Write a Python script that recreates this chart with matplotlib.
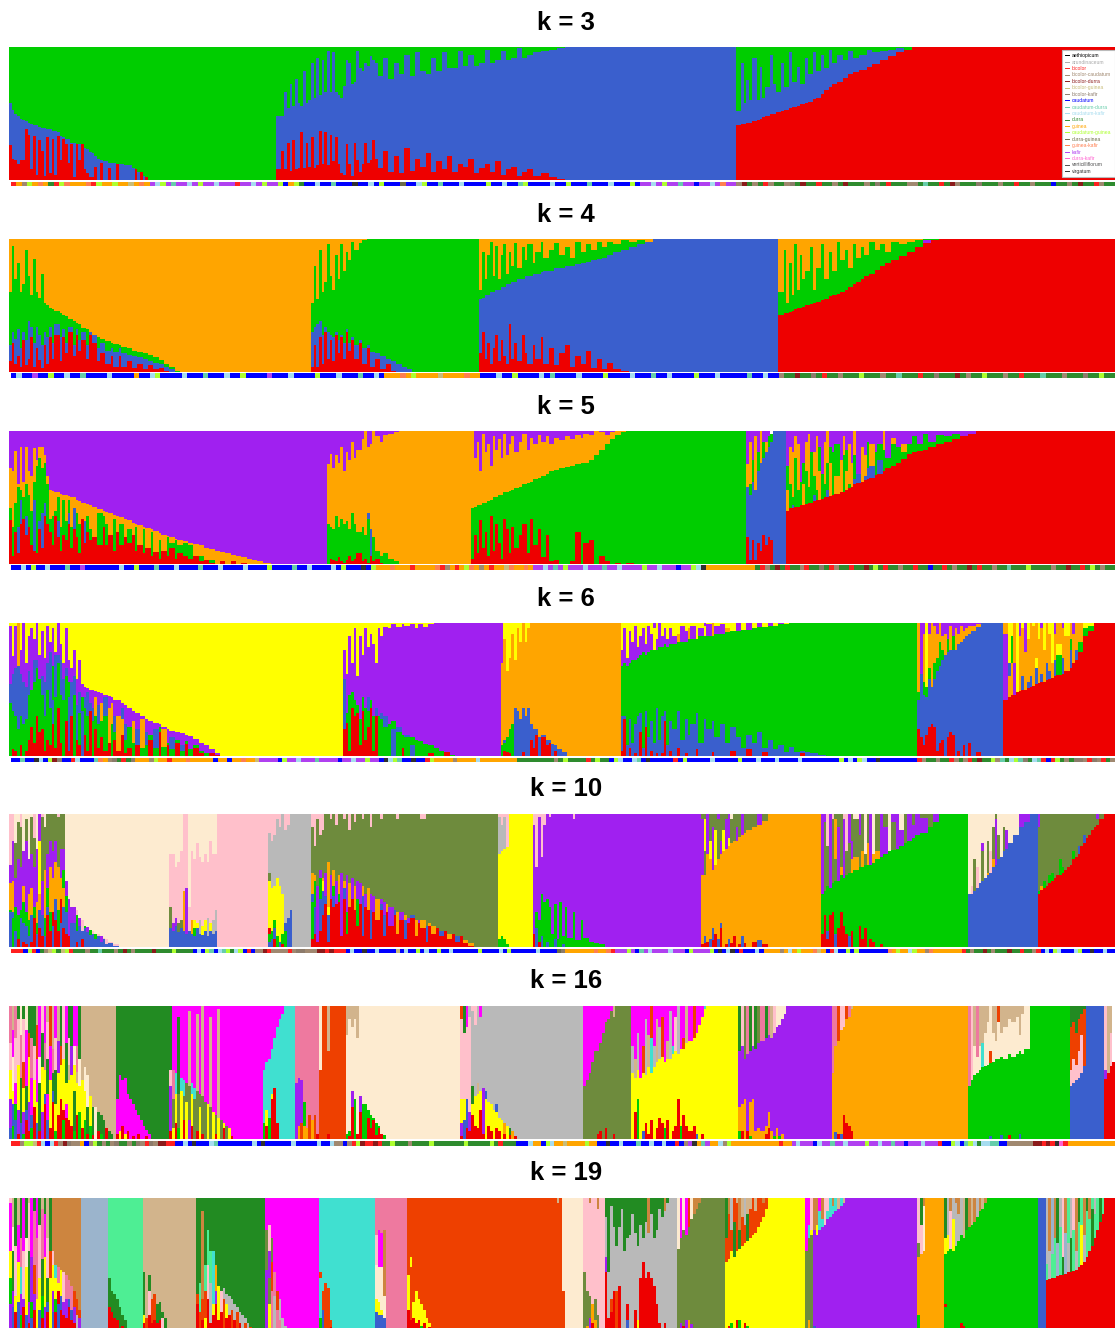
#!/usr/bin/python3

import matplotlib
matplotlib.use("Agg")
import matplotlib.pyplot as plt
import numpy as np
from matplotlib.colors import ListedColormap
from matplotlib.lines import Line2D

# ancestry colours, one letter per cluster
CLUSTER = {
    "r": "#EE0000", "b": "#3A5FCD", "g": "#00CD00", "o": "#FFA500", "p": "#A020F0",
    "y": "#FFFF00", "l": "#6E8B3D", "w": "#FDEBD0", "k": "#FFC0CB", "a": "#B9B9B9",
    "t": "#D2B48C", "f": "#228B22", "m": "#FF00FF", "u": "#40E0D0", "e": "#EE799F",
    "n": "#EE4000", "h": "#CD853F", "s": "#9BB4CC", "d": "#4EEE94",
}

# race names, their legend colours and strip letters
RACES = ["aethiopicum", "arundinaceum", "bicolor", "bicolor-caudatum", "bicolor-durra",
         "bicolor-guinea", "bicolor-kafir", "caudatum", "caudatum-durra", "caudatum-kafir",
         "durra", "guinea", "caudatum-guinea", "durra-guinea", "guinea-kafir", "kafir",
         "durra-kafir", "verticilliflorum", "virgatum"]
RACE_COL = ["#000000", "#A9A9A9", "#FF2020", "#A08870", "#8B1A1A", "#C8BC78", "#8C7B6B",
            "#0000FF", "#66CDAA", "#A6DCEF", "#2E8B2E", "#FFA500", "#ADFF2F", "#6B6B47",
            "#FF7F50", "#B040F0", "#FF60D0", "#505050", "#303030"]
RACE_KEY = "HURTXKMBACDOGEFPVIZ"

TITLES = ["k = 3", "k = 4", "k = 5", "k = 6", "k = 10", "k = 16", "k = 19"]
TOTAL = 414

# each run: individuals (or =last individual), then cluster letter + cumulative top in %
K3 = """
1 r26 b58 g;1 r16 b53 g;1 r15 b50 g;1 r12 b48 g;1 r15 b46 g;1 r15 b45 g;1 r38 b44 g;1 r34 b43 g;1 r8 b42 g;
1 r33 b41 g;1 r4 b41 g;1 r30 b40 g;1 r22 b39 g;1 r3 b39 g;1 r32 b38 g;1 r5 b38 g;1 r31 b37 g;1 r4 b37 g;
1 r33 b36 g;1 r15 b33 g;1 r31 b32 g;1 r27 b31 g;1 r13 b31 g;1 r27 b28 g;1 r2 b28 g;1 r27 b27 g;1 r15 b27 g;
1 r27 b27 g;1 r8 b24 g;1 r5 b23 g;1 r2 b21 g;1 r2 b20 g;1 r10 b18 g;1 b16 g;1 r13 b15 g;1 b14 g;1 b14 g;
1 r9 b13 g;2 b13 g;1 r12 b12 g;2 b12 g;3 b11 g;1 b9 g;1 r8 b8 g;1 b6 g;1 r6 b5 g;1 b3 g;1 r2 b2 g;=100 g;
2 r8 b48 g;1 r22 b48 g;1 r8 b66 g;1 r28 b54 g;1 r7 b72 g;1 r30 b56 g;1 r8 b76 g;1 r9 b58 g;1 r36 b56 g;
1 r9 b82 g;1 r28 b58 g;1 r10 b60 g;1 r32 b88 g;1 r9 b62 g;1 r11 b92 g;1 r37 b64 g;1 r12 b90 g;1 r36 b66 g;
1 r11 b97 g;1 r34 b66 g;1 r14 b96 g;1 r32 b66 g;1 r12 b64 g;1 r5 b62 g;1 r4 b71 g;1 r27 b90 g;1 r12 b88 g;
1 r3 b72 g;1 r28 b74 g;1 r15 b97 g;1 r6 b84 g;1 r12 b82 g;1 r28 b88 g;1 r13 b86 g;1 r15 b93 g;1 r30 b90 g;
1 r16 b88 g;2 r9 b78 g;2 r22 b92 g;2 r6 b76 g;2 r18 b88 g;2 r5 b80 g;2 r24 b94 g;2 r7 b78 g;2 r16 b96 g;
2 r10 b82 g;2 r20 b80 g;2 r6 b92 g;2 r14 b82 g;2 r8 b96 g;2 r18 b84 g;2 r6 b84 g;2 r12 b97 g;2 r10 b86 g;
2 r16 b94 g;2 r5 b86 g;2 r9 b88 g;2 r12 b98 g;2 r6 b88 g;2 r14 b90 g;2 r4 b97 g;2 r8 b90 g;2 r10 b92 g;
2 r3 b99 g;2 r6 b92 g;2 r8 b94 g;3 r3 b96 g;3 r5 b97 g;3 r2 b98 g;3 r1 b99 g;=272 b;
2 r41 b52 g;1 r42 b88 g;1 r42 b58 g;1 r43 b75 g;1 r43 b60 g;2 r44 b92 g;1 r45 b60 g;1 r46 b85 g;1 r47 b62 g;
2 r48 b70 g;1 r50 b94 g;1 r50 b72 g;2 r51 b66 g;1 r52 b88 g;2 r53 b70 g;1 r54 b96 g;2 r55 b74 g;1 r56 b85 g;
2 r57 b72 g;1 r58 b92 g;2 r59 b80 g;1 r61 b96 g;2 r62 b82 g;1 r65 b94 g;2 r68 b84 g;1 r70 b98 g;2 r72 b88 g;
2 r74 b94 g;2 r77 b90 g;2 r80 b97 g;2 r81 b92 g;3 r83 b94 g;2 r85 b98 g;3 r87 b96 g;3 r90 b97 g;3 r93 b98 g;
3 r96 b99 g;3 r98 g;=414 r
"""

K4 = """
1 r8 b20 g60 o;1 r22 b30 g95 o;1 r6 b25 g70 o;1 r12 b32 g82 o;1 r4 b18 g60 o;1 r24 b30 g66 o;1 r5 b24 g92 o;
1 r10 b38 g72 o;1 r26 b34 g58 o;1 r4 b22 g85 o;1 r18 b34 g60 o;1 r9 b28 g56 o;1 r3 b20 g74 o;1 r20 b30 g52 o;
1 r6 b26 g50 o;1 r26 b34 g48 o;1 r10 b22 g47 o;2 r28 b36 g46 o;1 r8 b26 g44 o;1 r26 b32 g43 o;1 r14 b22 g42 o;
2 r30 b34 g40 o;1 r12 b20 g38 o;1 r28 b32 g37 o;1 r16 b24 g36 o;2 r24 b30 g33 o;1 r10 b20 g32 o;1 r28 b30 g30 o;
2 r22 b28 g28 o;1 r8 b18 g26 o;2 r14 b22 g25 o;2 r6 b16 g23 o;1 r12 b18 g22 o;2 r4 b15 g21 o;1 r12 b18 g20 o;
2 r4 b14 g19 o;2 r8 b13 g18 o;2 r3 b12 g16 o;2 r6 b11 g15 o;2 r2 b10 g14 o;2 r5 b8 g13 o;2 r2 b7 g11 o;
2 r3 b6 g9 o;2 r1 b4 g6 o;2 b2 g4 o;2 g1 o;=113 o;
1 r4 b30 g52 o;1 r20 b34 g80 o;1 r4 b36 g55 o;1 r26 b38 g92 o;1 r6 b28 g60 o;1 r30 b34 g68 o;1 r10 b30 g96 o;
1 r24 b28 g72 o;1 r8 b26 g62 o;1 r28 b30 g88 o;1 r14 b24 g70 o;1 r26 b28 g96 o;1 r10 b22 g76 o;1 r30 b32 g90 o;
1 r16 b22 g84 o;1 r24 b26 g98 o;2 r10 b20 g92 o;1 r22 b24 g97 o;2 r6 b18 g99 o;1 r18 b20 g;2 r4 b15 g;2 r10 b14 g;
2 r2 b12 g;2 r6 b10 g;2 r1 b8 g;2 b6 g;2 b4 g;2 b2 g;=176 g;
1 r14 b55 g62 o;1 r30 b56 g90 o;1 r10 b58 g70 o;1 r22 b58 g88 o;1 r6 b60 g98 o;1 r18 b60 g72 o;1 r28 b62 g95 o;
1 r8 b62 g70 o;1 r24 b64 g88 o;1 r12 b64 g96 o;1 r6 b66 g74 o;1 r36 b66 g90 o;1 r10 b68 g80 o;1 r22 b68 g97 o;
2 r8 b70 g78 o;1 r28 b70 g94 o;1 r14 b72 g84 o;2 r6 b72 g96 o;1 r20 b74 g82 o;2 r10 b74 g90 o;1 r26 b75 g98 o;
2 r6 b76 g86 o;2 r18 b76 g92 o;2 r5 b78 g97 o;2 r14 b78 g88 o;2 r20 b80 g94 o;2 r4 b80 g86 o;2 r12 b81 g98 o;
2 r6 b82 g90 o;2 r16 b83 g96 o;2 r3 b84 g92 o;2 r10 b85 g98 o;2 r2 b86 g94 o;2 r7 b88 g98 o;3 r2 b90 g96 o;
3 r1 b92 g99 o;3 b94 g98 o;3 b96 g99 o;3 b98 o;=288 b;
2 r43 g60 o;1 r44 g92 o;1 r44 g52 o;1 r45 g82 o;1 r46 g58 o;1 r47 g96 o;1 r48 g62 o;1 r48 g88 o;1 r49 g70 o;
2 r50 g76 o;1 r51 g94 o;1 r52 g62 o;2 r53 g78 o;1 r54 g96 o;2 r55 g70 o;1 r57 g90 o;2 r58 g76 o;1 r59 g98 o;
2 r60 g84 o;1 r62 g92 o;2 r64 g78 o;1 r66 g96 o;2 r68 g86 o;1 r70 g94 o;2 r72 g88 o;2 r74 g98 o;2 r77 g92 o;
2 r80 g96 o;2 r82 g90 o;3 r84 g98 o;3 r87 g96 o;3 r90 g98 o;3 r94 g99 o;3 r97 p99 g;3 r99 g;=414 r
"""

K5 = """
1 r33 g42 o72 p;1 r6 g28 o70 p;1 r24 g46 o85 p;1 r8 b28 g58 o60 p;1 r30 b48 g56 o88 p;1 r34 g50 o62 p;1 r22 b36 g60 o88 p;
1 r28 g52 o70 p;1 r14 g40 o66 p;1 r10 b48 g62 o87 p;1 r8 g74 o78 p;1 r26 b32 g80 o88 p;1 r12 b38 g72 o88 p;1 r36 b46 g76 o82 p;
1 r30 g60 o66 p;1 r24 g34 o56 p;1 r14 g36 o55 p;1 r36 g40 o54 p;1 r20 b32 g50 o54 p;1 r10 g28 o53 p;1 r22 g48 o52 p;1 r18 g32 o52 p;
1 r30 b38 g48 o51 p;1 r12 g28 o50 p;1 r26 b42 o50 p;1 r20 g38 o48 p;1 r8 g30 o47 p;1 r34 o46 p;1 r16 b32 o46 p;1 r24 g36 o45 p;
1 r18 g26 o44 p;2 r20 o43 p;2 r14 g38 o41 p;1 r28 g36 o40 p;1 r14 g30 o39 p;2 r22 o38 p;1 r10 g34 o37 p;1 r24 o36 p;2 r14 g30 o35 p;
1 r20 o34 p;2 r16 g26 o33 p;1 r22 o31 p;1 r10 g28 o30 p;2 r14 o29 p;1 r8 g26 o28 p;2 r12 o27 p;1 r6 g24 o26 p;2 r9 o25 p;1 r4 g18 o23 p;
2 r10 o22 p;1 r6 g20 o21 p;2 r12 g16 o20 p;1 r4 g18 o19 p;2 r8 g14 o18 p;2 r6 g16 o17 p;2 r4 g14 o16 p;2 r6 o15 p;2 r2 g6 o14 p;
2 r3 o12 p;2 r1 g3 o11 p;2 o10 p;2 r2 o9 p;2 o8 p;2 r2 o7 p;2 o6 p;2 r1 o5 p;2 o4 p;2 o3 p;2 o2 p;3 o1 p;=119 p;
1 g30 o75 p;1 r4 g28 o83 p;1 r3 g26 o72 p;1 r2 g36 o82 p;1 r5 g28 o76 p;1 r2 g34 o88 p;1 r1 g30 o70 p;
1 r3 g32 o84 p;1 r6 g26 o78 p;1 r2 g38 o92 p;1 r4 g30 o80 p;2 r8 g24 o86 p;1 r2 g28 o94 p;1 r4 g22 o100;
1 r1 g34 b38 o88 p;1 r6 b26 o90 p;1 r2 g20 o100;2 r4 g10 o96 p;1 r1 g6 o92 p;2 g8 o97 p;2 g4 o98 p;2 g2 o99 p;=173 o;
1 r4 g42 o100 p;1 r22 g43 o80 p;1 r8 g44 o92 p;1 r33 g44 o70 p;1 r12 g46 o98 p;1 r24 g46 o84 p;1 r6 g47 o90 p;
1 r36 g48 o74 p;1 r10 g50 o96 p;1 r30 g50 o86 p;1 r16 g52 o94 p;1 r4 g52 o80 p;1 r34 g54 o98 p;1 r26 g54 o82 p;
1 r8 g55 o90 p;1 r28 g56 o96 p;2 r12 g57 o84 p;1 r22 g58 o92 p;2 r30 g60 o98 p;1 r8 g61 o86 p;1 r34 g62 o95 p;
2 r14 g64 o90 p;1 r26 g65 o97 p;2 r5 g66 o92 p;1 r22 g68 o96 p;2 r2 g70 o90 p;2 r3 g71 o95 p;2 g72 o93 p;
2 g73 o96 p;2 r2 g74 o94 p;2 r24 g75 o97 p;1 g76 o95 p;2 r16 g76 o98 p;2 r18 g78 o97 p;2 g82 o100;2 r6 g86 o99 p;
2 r2 g90 o97 p;2 g94 o99 p;2 r1 g97 o;2 g99 o;3 r1 g;=276 g;
1 r20 b58 o75 p;1 r3 b52 g60 o92 p;1 r18 b62 g78 p;1 r3 b56 o96 p;1 r16 b70 g84 p;1 r10 b76 o100;1 r22 b80 g92 p;
1 r14 b84 o92 p;1 r20 b88 g96 p;1 r18 b92 g98;=291 b;
1 r40 o56 g74 p;1 r42 g60 o88 p;1 r42 b44 g50 o84 p;1 r43 g80 o96 p;1 r43 g56 o90 p;1 r44 g62 p;1 r44 o60 g76 p;
1 r45 g70 o92 p;1 r46 g58 o98 p;1 r46 g84 p;1 r47 b52 g66 o84 p;1 r48 g56 o96 p;1 r48 o70 g88 p;1 r49 g68 p;
1 r50 g60 o92 p;1 r50 b56 g76 o;1 r51 o76 g88 p;1 r52 g84 p;2 r53 o66 g90 p;1 r54 o78 p;1 r54 g82 o96 p;
1 r56 o70 g86 p;1 r57 g60 o90 p;1 r58 o76 p;1 r60 b64 g82 o;2 r61 b68 p;1 r62 o88 p;1 r63 b66 o82 p;1 r64 b72 g92 p;
2 r65 b74 o90 p;1 r67 g84 p;2 r68 b78 g90 p;1 r70 g86 o;2 r72 g80 p;2 r74 g90 o95 p;2 r76 g88 p;2 r79 g84 o90 p;
2 r83 g90 p;2 r84 g96 p;2 r85 g90 p;2 r86 g98 p;3 r88 g92 p;3 r90 g97 p;3 r92 g96 p;3 r94 g98 p;3 r96 p;3 r98 p;=414 r
"""

K6 = """
1 g40 b54 p98 y;1 r5 g34 b62 p75 y;1 r4 g30 b66 p98 y;1 g20 b68 o100;1 r8 g30 b62 p80 y;1 g24 b56 p100;1 r4 g28 b52 p70 y;
1 r12 g46 b64 p90 y;1 r22 g50 p96 y;1 r10 g56 b72 p88 y;1 r30 g66 b72 p100;1 r18 g58 p76 y;1 r20 g46 b60 p94 y;
1 r4 g30 b56 p74 y;1 r12 g50 b70 p98 y;1 r8 g36 b78 p86 y;1 r24 b42 g68 p96 y;1 r6 g44 b76 p78 y;1 r36 g70 b76 p100;
1 r10 g46 b72 p84 y;1 g42 b58 p70 y;1 r26 g60 b66 p96 y;1 r4 b44 g56 p72 y;1 r30 b56 p66 y;1 g46 b60 p80 y;1 r12 b38 p58 y;
1 r8 g32 b48 p72 y;1 b34 g44 p54 y;1 r16 g36 b44 p52 y;1 r4 g30 b48 p51 y;1 r34 b40 p50 y;1 g26 b36 p50 y;1 r20 g30 o44 p49 y;
1 r6 g24 b38 p48 y;1 r14 g26 o40 p47 y;2 r4 g30 b44 p46 y;1 r10 o36 p45 y;1 g24 o40 p44 y;1 r12 g18 b30 p42 y;2 r4 o30 p42 y;
1 r16 o28 b36 p40 y;1 r2 g12 b24 p38 y;2 r6 g22 p36 y;1 g10 o26 p34 y;2 r8 b20 p32 y;2 g6 o28 p30 y;1 g8 b18 p28 y;
2 r12 g16 p26 y;2 g6 b20 p25 y;1 r18 g22 p24 y;2 g7 o20 p22 y;1 r8 g10 p20 y;2 g5 b14 p19 y;2 r10 g12 p18 y;2 g4 b8 p17 y;
1 r9 g11 p16 y;2 g5 p15 y;2 r6 g8 p13 y;2 r2 g4 p10 y;2 g2 p8 y;2 r2 p5 y;2 r1 p2 y;=125 y;
1 r20 b58 p80 y;1 r25 g32 p62 y;1 r4 g46 p90 y;1 r36 g48 p70 y;1 r30 g42 p96 y;1 r32 g38 p60 y;1 r8 g28 p90 y;1 r34 g44 p76 y;
1 r12 g36 p96 y;1 r22 g34 b44 p82 y;1 r36 g42 p92 y;1 r4 g30 p84 y;1 r30 b36 p70 y;1 g30 p96 y;1 g28 b32 p90 y;2 g22 b30 p97 y;
1 g24 p96 y;2 b20 g26 p99 y;2 g18 b22 p97 y;1 r6 g16 p99 y;2 g14 b16 p98 y;2 b8 g14 p99 y;1 g12 p96 y;2 g11 p99 y;2 g9 p97 y;
2 r2 g8 p99 y;2 g6 p;2 g4 p;2 r3 g3 p;2 g1 p;=184 p;
1 g8 o70 p;1 r4 g10 b12 o88 y;1 r3 g14 o64 y;1 r2 g20 o74 y;1 g24 o92 y;1 b36 o72 y;1 b34 o96 y;1 b28 o86 y;1 r3 b36 o;
1 b30 o86 y;1 b36 o96 y;1 r12 b24 o;1 r6 b20 o;1 r16 b20 o;1 b14 o;2 r14 b16 o;1 r8 b12 o;1 r10 b12 o;1 b9 o;1 r4 b8 o;2 b5 o;2 b3 o;=229 o;
1 r4 b30 g68 p80 y;1 r28 b30 g70 p96 y;1 b8 g68 p74 y;1 r6 b28 g70 p94 y;1 b10 g72 p86 y;1 r2 b24 g72 p98 y;1 b30 g74 p82 y;
1 r18 b32 g76 p90 y;1 b6 g78 p96 y;1 r22 b34 g76 p84 y;1 b14 g78 p98 y;1 r4 b26 g80 p92 y;1 b10 g80 y96 p;1 r2 b36 g80 p88 y;
1 b12 g82 p100;1 r2 b30 g82 p90 y;1 r26 b34 g84 p96 y;1 b8 g82 p88 y;1 r4 b26 g84 p96 y;2 b20 g84 p90 y;1 r6 b34 g86 o92 y;
2 b12 g86 p98 y;1 r2 b28 g86 p94 y;1 b16 g88 o96 y;2 b24 g88 p98 y;1 r5 b32 g88 y;2 b10 g90 p96 y;1 b28 g90 y98 p;2 b20 g90 p99 y;
1 r3 b26 g90 o;2 b14 g92 p98 y;2 b24 g92 p99 y;2 b10 g93 o96 y;2 r4 b22 g94 y;2 b14 g94 p;2 b6 g95 y;2 r5 b16 g95 p;2 b10 g96 y;
2 b18 g97 p;2 r3 b6 g97 y;2 b12 g98 p;2 b5 g98 y;2 b8 g99 p;2 b3 g99 y;2 b7 g;2 b3 g;2 r2 b4 g;2 b3 g;3 b2 g;3 b1 g;=340 g;
1 r20 b42 g48 o100;1 r14 b62 p100;1 r8 b46 g56 o92 p;1 r16 b44 g52 y100;1 r22 b58 g66 o92 p;1 r24 b52 o100;1 r22 b58 g70 o98 p;
1 r4 b64 g74 o92 p;1 r10 b68 g86 o100;1 r12 b72 g80 o90 p;1 b76 o92 p;1 r14 b78 g88 p;1 r18 b80 o98 p;1 r16 b80 g90 p;1 b80 o96 p;
1 r4 b84 o92 p;1 b86 o98 p;1 r8 b88 o94 p;1 b90 o96 p;1 r10 b92 o98 p;2 b94 o98 p;2 r3 b97 o99 p;=372 b;
2 r42 p92 o;1 r44 o60 b70 y;1 r46 o70 g90 y;1 r46 p70 o;1 r48 y100;1 r49 o90 p;1 r50 b60 o96 y;1 r50 o78 p;1 r51 b56 o88 y;
1 r52 b60 o100;1 r53 o98 y;1 r54 b66 y74 o;1 r55 o88 y;1 r56 b62 o96 p;1 r56 o80 y;1 r57 b70 o100;1 r58 b64 o92 y;1 r59 o70 y;
1 r60 b72 o92 p;2 r61 g76 y84 o;1 r62 b74 o96 p;2 r64 o90 y;1 r66 b80 g88 o;1 r70 o92 p;1 r72 b80 o;2 r78 g86 o;2 r90 g96 y;2 r94 g98 y;=414 r
"""

K10 = """
1 b26 g28 o48 p62 k;1 g22 b26 o50 p80 k;1 b12 g30 p52 l78 w;1 r6 g24 p66 l94 w;1 b22 g28 p60 l90 k;1 r4 b18 g34 o46 p72 w;
1 r2 b16 g26 p80 l96 w;1 b8 g20 o40 p66 w;1 r4 b24 o44 p70 l98 w;1 r22 g30 p60 l82 k;1 b10 g18 o34 p74 w;1 r14 b28 o40 y80 p;
1 r8 b24 p50 l98 k;1 b8 g22 o58 l90 w;1 r24 b30 g44 p70 l;1 r12 g26 o60 p80 l;1 b16 r26 o52 p72 l;1 r20 b36 o64 p80 l;
1 r12 g28 o60 l98 k;1 b18 r36 o52 p74 l;1 r14 b30 o44 g58 p74 l;1 r10 b26 g38 p50 w;1 r8 p36 w;2 b18 p30 w;1 r4 b12 g24 k28 w;
1 b16 p22 w;1 r6 b12 k20 w;1 b14 g16 w;1 b11 p15 w;1 b9 g13 w;1 b10 k12 w;1 b6 g10 w;1 b8 k10 w;1 b4 p8 w;1 b6 k7 w;1 b2 k6 w;2 b3 k4 w;2 b1 k2 w;=60 w;
1 b14 l30 k70 w;1 b12 p18 k70 w;1 b16 p22 k60 w;1 b11 l18 k64 w;1 b14 l20 k72 w;1 b12 o42 k100;1 b10 p44 k100;1 b12 k30 w;1 b10 o20 k72 w;
1 b8 g14 y20 k66 w;1 b14 y18 k78 w;1 b10 a20 k68 w;1 b9 y16 k64 w;1 b12 y20 k70 w;1 b8 a22 k64 w;1 b12 y18 k80 w;1 b10 a20 k70 w;
1 b12 a28 k70 w;=97 k;
1 b4 g10 r14 y50 l56 a86 k;1 b6 g12 y44 a80 k;1 r6 b14 g20 y46 a84 k;1 g8 y52 a96 k;1 b4 y46 a90 k;1 r2 g10 y40 a;1 g12 b18 a88 k;
1 b22 a92 k;1 b28 a;=113 a;
1 r6 g34 b40 o56 l90 k;1 r10 b30 g50 o54 l76 k;1 r4 p46 l96 k;1 r12 b36 g52 p58 l84 k;1 r24 b42 y50 o52 l88 k;1 r32 b38 p56 l;1 r4 b24 y30 o64 l;
1 r36 p54 l96 k;1 r30 b38 g46 o58 l;1 r32 p50 l92 k;1 r34 g40 o54 l;1 r8 p56 l;1 r36 b44 o50 l96 k;1 r10 g26 p54 l;1 r30 o48 l88 k;
1 r36 p52 l;1 r28 o46 l94 k;1 r16 g36 p50 l;1 r32 p48 l;1 r8 b38 o46 l96 k;1 r30 p40 l;1 r28 o44 l;1 r6 b28 p40 l90 k;1 r26 p38 l;
2 r20 o36 l;1 r28 b32 p36 l96 k;1 r8 b24 p34 l;1 r26 o32 l;2 r16 p30 l;1 r24 b28 l;1 r10 o26 l96 k;2 r20 p26 l;1 r6 b20 o24 l;
1 r18 p22 l;2 r22 b24 l;1 r8 o20 l;1 r18 p20 l;2 r14 o20 l96 k;1 r4 b16 l;1 r16 o18 l;2 r10 o16 l;1 r14 l;2 r8 b12 l;1 r12 l;2 r6 o10 l;
1 r10 l;2 r4 b8 l;1 r8 l;2 r3 o5 l;2 r1 o3 l;=183 l;
1 g6 y70 a98 k;1 g8 y72 a92 k;1 g6 y74 a98 k;1 g2 y75 k;=196 y;
1 r10 p92 k;1 b14 g26 p60 k;1 r4 g20 p98 k;1 b8 g40 p68 k;1 g34 p92 k;1 b4 g36 p100;1 g30 p98 k;1 g10 p;1 b6 g32 p;1 g6 p;1 g34 p;1 b2 g8 p;
1 g30 p;2 g7 p;1 g26 p96 k;2 g5 p;1 g20 p;2 g7 p;2 g4 p;2 g3 p;2 g2 p;=259 p;
1 r2 o54 p96 l;1 r3 b8 o54 l72 y96 l;1 r4 o70 p100;1 b6 o66 y80 l;1 r5 b14 o58 p90 l;1 r10 o62 y88 l;1 b6 o66 l96 p;1 r14 b18 o70 p80 l;1 o72 y88 l;
1 r2 o74 p96 l;1 b6 o76 y82 p;1 r3 o78 l96 w;1 r8 o80 l;1 o80 p90 l;1 r2 o83 l;1 b8 o84 p;1 r3 o86 l;2 o88 l;2 r4 o90 l;2 b5 o92 p;2 r2 o95 l;=304 o;
1 r10 g40 p100;1 r24 g42 l94 p;1 r6 b12 g46 l76 k;1 r24 g44 p100;1 r26 g48 l96 k;1 b10 g50 l66 o96 l;1 r14 g50 p90 l;1 r26 g54 o60 l;1 r16 g52 p96 k;
1 r10 g54 l72 k;1 b8 g56 l78 p;1 r12 g56 o66 p80 l;2 g58 o68 l96 w;1 r16 g60 l84 p;1 r6 g60 o72 l;1 r14 g62 l70 w;1 g62 o78 l;1 r6 g62 p100;
1 r4 g63 o70 w;2 g66 o72 l;1 r2 g68 p;2 g70 p90 l;1 g72 w;2 g73 l94 p;1 g74 p;2 g76 p88 w;1 g78 l;2 g80 p;1 g82 p92 l;2 g84 p;3 g86 p97 l;2 g90 l;2 g94 p;=359 g;
1 b40 w100;1 b40 k46 w;1 b42 l66 w;1 b44 k60 w;1 b48 w;1 b50 l72 p78 w;1 b52 w;1 b54 o56 l80 w;1 b56 k72 w;1 b60 o66 l90 w;1 b62 p96 l;1 b66 l84 w;1 b68 w;
1 b72 l90 w;1 b74 p88 w;2 b78 w;2 b84 w;2 b90 p;2 b94 p;=385 b;
1 r40 g42 l90 p;1 r43 o46 l;1 r44 g50 l;1 r46 l;1 r48 g54 l;1 r50 g56 l;1 r52 l;1 r54 l;1 r54 g66 l;1 r56 g60 l;1 r58 l;1 r60 l;1 r62 l;1 r66 g72 l;1 r68 l;
1 r70 b76 l;1 r76 l;1 r78 b84 l;1 r82 l;1 r84 l;1 r88 l;1 r90 l;1 r92 l96 p;2 r96 l;=414 r
"""

K16 = """
1 b8 p30 y52 k72 e;1 g10 b26 y36 w62 m82 t;1 b14 g26 m42 k76 e;1 r4 p22 y56 k90 f;1 b12 f46 e78 w;1 g4 p20 y38 n58 k90 f;1 r14 b22 f40 m82 w;1 r6 p28 y62 n80 f;
1 g8 b18 m46 e76 f;1 r24 y44 k70 f;1 b12 y28 m60 n86 t;1 r6 f42 w62 m;1 p20 y54 f80 k;1 r26 b34 y52 e72 m;1 b14 m34 f60 k88 t;1 r8 y44 m70 n;1 r28 b36 f50 e68 t;
1 g6 y26 f52 k76 m;1 r18 y50 p74 t;1 r30 y56 n70 f;1 g14 r22 y60 k;1 r16 m26 y42 f72 m;1 r14 y44 t56 k76 f;1 r10 y48 p70 f;1 g6 f36 y56 w70 m;1 r18 y42 t50 e70 m;
1 g20 y40 w60 f;1 r8 y44 t;1 g14 y36 w54 t;1 r4 f24 w48 t;1 g10 y32 t;1 r3 f24 t;1 w24 t;1 r6 f20 t;1 g4 f18 t;1 f14 t;1 r8 t;1 f6 t;1 f4 t;=40 t;
1 r4 m30 f;1 y6 m48 f;1 r10 m44 f;1 y4 m46 f;1 r6 m34 f;1 m30 f;1 r2 m26 f;1 m22 f;1 r4 m18 f;1 m14 f;1 m10 f;1 r2 m7 f;1 m4 f;=60 f;
1 r6 p40 k52 f;1 y8 l30 e52 m;1 r12 y34 u50 m;1 g8 l34 f92 m;1 y36 u46 m;1 r14 l32 u44 m;1 y28 l42 m;1 p14 l40 t96 m;1 r10 y34 u42 m;1 l30 u38 m;1 r6 l36 t94 m;1 y24 l34 m;1 r4 l32 t;
1 l28 m;1 y26 m;1 l24 t92 m;1 y20 m;1 r4 l18 m;1 y16 t98 m;1 l14 m;1 r8 y12 m;1 l10 m;1 y8 m;1 r2 m;=95 m;
1 g12 u52 m;1 r10 y22 u58 m;1 g16 u60 m;1 r30 y34 u68 m;1 r38 u76 m;1 r12 u84 m;1 u90 m;1 u94 m;=107 u;
1 p42 e;1 o10 p46 e;1 n12 p44 e;1 o10 g28 e;1 o8 e;1 n18 e;1 o14 e;1 n18 e;1 r4 e;=116 e;
1 n52 w;1 n100;1 n100;1 r4 n66 t;1 n100;=126 n;
1 g4 w78 t;1 r2 g6 w90 t;1 r24 p36 w84 t;1 g30 w90 t;1 r4 w76 t;1 r20 p32 w;2 g26 w;1 r16 g22 w;1 r8 g18 w;1 r14 g16 w;1 r3 g12 w;1 r8 g10 w;1 r4 w;1 g3 w;=169 w;
1 r2 p12 y30 k90 n;1 b14 y30 k80 f;1 r8 b30 k84 m;1 r6 p20 k92 a;1 r18 y26 f40 a96 k;1 r10 y32 a86 k;1 r8 y34 t42 a;1 r22 y36 a92 m;1 r4 p38 a;1 y30 b36 a;1 r10 y28 a;1 r6 y26 a;1 y22 a;
1 r8 y20 b26 a;1 r6 y16 a;1 y14 a;1 r4 o12 a;1 y10 a;1 r3 f8 a;1 o6 a;1 r2 a;=215 a;
1 l40 m;1 l44 m;1 l50 m;1 l58 m;1 l66 m;1 r4 l66 m;1 r6 l72 m;1 l80 m;1 r8 l88 m;1 l90 m;1 l96 m;1 r4 l92 t;=233 l;
1 y50 a70 m;1 r20 y46 t60 m;1 g30 y52 a80 m;1 y46 m;1 b6 y50 n70 m;1 r12 y48 a90 m;1 r4 y54 t78 m;1 r14 y50 u76 n;1 y54 a70 m;1 r8 y58 t90 m;1 r16 y60 a84 m;1 r12 y62 n92 m;
1 g8 y58 m;1 r14 y60 t74 m;1 y60 a96 m;1 r6 y64 u70 m;1 r10 y66 k92 m;1 r30 y64 a;1 g10 y68 m;1 r18 y68 n76 m;1 r10 y72 t;2 r6 y74 m;1 r10 y76 n;1 b4 y80 m;1 y86 m;1 r4 y92 m;1 y98 u;=273 y;
1 g6 o24 p66 f;1 r6 o26 p70 k;1 o30 p60 l;1 r6 p64 e;1 g2 o28 p66 f;1 o30 p70 k;1 o6 p68 f;1 o8 p72 l;2 o6 p74 e;1 r4 o10 p76 f;1 r8 o20 p78 e;1 o6 p76 t;1 g2 p80 k;1 o8 p84 w;1 g2 p86 w;1 o4 p90 w;1 p94 w;=308 p;
1 o50 e;1 b5 o70 e;1 r4 o74 n;1 b4 o82 k;1 r18 o84 k;1 r12 o90 n;1 r10 o92 e;1 r6 o98 t;=359 o;
1 g40 e;1 g44 k;1 g48 w70 t;1 g50 w62 e;1 g52 w70 t;1 g54 u72 t;1 g55 w80 t;1 g56 w88 t;1 b2 g57 n66 w;1 g58 w80 t;1 g60 w74 t;1 g60 w88 n;1 b3 g62 w80 t;2 g60 w84 t;1 r3 g64 w90 t;2 g62 w88 t;1 g64 w92 t;1 b4 g66 w78 t;1 g64 w94 t;2 g68 w;=397 g;
1 b40 k52 n84 f;1 b42 k60 n88 f;1 b44 k56 n80 f;1 b46 k66 n90 f;1 b50 k78 n94 f;1 b55 n98 f;=410 b;
1 r45 p52 k;1 r50 t;1 r55 k80 t;=414 r58
"""

K19 = """
1 p20 g40 y60 m96 k;1 b18 p30 f60 w78 t;1 r14 y26 k64 f;1 b22 y52 m80 t;1 g12 p28 u48 e70 f;1 r18 p24 k60 m;1 b12 y48 w70 f;1 r6 p22 f60 k96 t;1 b10 g22 p56 m;1 r16 p28 n50 e90 f;
1 y24 e70 m;1 b16 y40 k80 f;1 r10 g26 f54 e92 t;1 p18 y56 m88 f;1 r14 b22 f40 k70 t;1 y40 n60 f;
1 b14 p30 y50 k60 h;1 r14 g24 y40 u50 h;1 b20 r30 y36 e48 h;1 r16 b26 y46 h;1 r12 p22 k44 h;1 r10 p24 e42 h;1 r18 b24 e38 h;1 r8 b16 e34 h;1 r6 p18 n30 h;1 a12 n24 h;1 p10 n16 h;=37 s;
1 r18 f40 d;1 r14 f30 d;1 r10 f28 d;1 r8 f24 d;1 f18 d;1 r4 f12 d;1 f8 d;=50 d;
1 r6 y12 f44 t;1 r2 n10 t;1 r12 k30 f42 t;1 r6 n24 t;1 r8 n28 t;1 r6 f20 t;1 r8 f22 t;1 k10 f14 t;1 f10 t;=70 t;
1 r20 n28 f;1 n14 d36 f;1 r8 n24 h90 f;1 y10 n30 d50 f;1 r24 k50 d76 f;1 r6 a36 d60 f;1 r12 y20 u60 f;1 r20 p30 o50 f;1 r8 y34 f;1 r14 k30 f;1 n24 a32 f;1 r10 y20 a28 f;
1 r12 a26 f;1 n16 a24 f;1 r8 a20 f;1 n14 a18 f;1 r6 a14 f;1 a12 f;1 n6 a10 f;1 a6 f;1 n3 f;=96 f;
1 p46 l76 m;1 y20 l40 p60 k80 m;1 e30 n52 l70 m;1 a26 e44 m;1 e16 n30 m;1 e8 a24 m;1 a10 m;1 a4 m;=116 m;
1 g10 u40 n44 u;1 b16 n30 u;1 n36 u;1 n32 u;1 r3 n8 u;=137 u;
1 b14 y24 w50 k72 e;1 b12 y22 w48 m76 e;1 b12 y16 w48 m74 e;1 b10 w26 h76 e;=149 e;
1 r16 y42 n;1 r8 n48 y56 n;1 r10 y22 n;1 r6 y30 n;1 r8 y24 n;1 g4 y20 n;1 r6 y16 n;1 y10 n;1 r3 y6 n;=205 n;
1 n96 t;1 n;1 n30 w;=215 w;
1 l44 k;1 o4 l30 k;1 p10 l26 k96 h;1 r6 o20 k;1 o8 l24 k;1 l12 k92 h;=223 k;
1 r44 p56 a86 f;1 r10 a44 f;1 r14 n24 a94 f;1 r30 a78 f;1 n30 a64 f;1 r34 a78 f;1 a92 f;1 a60 f;1 b8 r20 a70 f;1 a72 f;1 a88 f;1 r16 a74 f;1 y8 a64 f;1 r40 a80 f;1 r52 a70 f;1 r40 a82 f;
1 r44 a74 h;1 r40 a88 f;1 r34 a70 f;1 r20 a76 f;1 r6 a92 f;1 a86 f;1 r6 a90 h;1 a96 f;=250 a;
1 l62 w;1 p6 l70 m;1 r4 l76 w;1 p8 l72 m;1 o8 l78 n;1 p5 l84 w;1 l88 h;1 l92 h;1 l96 h;=268 l;
1 y52 n70 f;1 r4 y54 n88 h;1 g6 y60 n76 a;1 y56 f82 n;1 r8 y60 n96 t;1 g8 y62 f76 h;1 y64 n86 t;1 r6 y66 n80 a;1 g4 y68 f88 t;1 y70 n92 t;1 y72 n;1 y74 n90 t;1 y78 n;1 y82 n;1 y86 n96 h;1 y92 n;=298 y;
1 l60 m;1 o8 l70 u80 m;1 l72 y76 k;1 b4 p76 h;1 p72 y80 h;1 p76 u90 m;1 p78 u84 h;1 p80 k;1 p84 u90 k;1 p86 u;1 p88 u94 h;1 p90 u;1 p92 t;1 p94 u;1 p96 t;=340 p;
1 g12 o56 l66 k;1 o58 k80 f;1 o60 w94 h;=350 o;
1 g18 r20 g58 y70 f;1 g60 y72 a;1 g62 k90 h;1 g60 y84 a;1 g64 a96 h;1 g68 a88 h;1 r6 g72 a;1 r4 g70 t;1 g76 f;1 g78 h;1 g80 t;1 g82 h;1 g86 a;1 g90 h;1 g92 t;1 g96 h;=385 g;
=388 b;
1 r38 d50 a;1 r39 a60 h;1 r40 d58 s;1 r40 d70 h;1 r41 s66 f;1 r42 d78 a;1 r42 f56 k;1 r43 s74 h;1 r44 a66 d;1 r44 f70 a;1 r45 d76 k;1 r46 a60 h;1 r48 d82 f;1 r50 y80 d;1 r52 a72 h;1 r56 d90 f;1 r60 d84 h;
1 r64 f92 d;1 r70 d88 a;1 r76 d;1 r82 f;1 r88 d;=414 r
"""

PANELS = [K3, K4, K5, K6, K10, K16, K19]

# strip of race letters under each panel, one letter per two or so individuals
S3 = ("ROTGOFODRGFOOOFRGOOGOOKOFO" "PCGPAPPCPGPPCPPPRPPCPGPP"
      "GBOGDBBCBBABBBZBBCBGBBBEBBCGBBABBBCBBBBGBBCBBAGBBBBCBBGBBBABBBCBBBGB"
      "PPCPGPPAPPBPPCPFPP"
      "TXDTDRTDDTMDXDDRDDTDXDDDTDMDRDDDTTDADDRDXTDDDMDDDTDDRDDTDDDBDDTDXDDRTDD")
S4 = ("BCBBPBBGBBCBBABBBBCBBBBOBBCGBBBBCBBBABBBCBBGBBBBPBBBCBBBBGBBBCBBBABBCB"
      "OOOFOGOOOOKOOOOFOO"
      "BBBCBBGBBBBCBABBBBCBBBBGBBBBCBBBABBCBBBBGBBBCBBBBBABBCBB"
      "TDDXDDMDRDDTDDDGDDDTDDADDDRDDMDDDXDTDDGDDDTDDRDDDADDDTDDDMDDGDD")
S5 = ("BBCBGBBCBBBABBPBBBBBBBCBBGBBBABBBCBBBBABBBCBBBBCBBBBGBBBBABBCBBBBCBGBBBZB"
      "GOOOFOOOROOOO"
      "FRTOROGFOTOROOKF" "OOFO" "PPCPAPGPPPCPPPAPPCPPPPGPPCPPPBPP" "GCZOOOOOOOOOO"
      "DRTDXDRDDTRDDMDRTDDRDDXDGDRDDTDDRDDBDDRDTDDXDRDDTDDADDDGDDDDTDDXDDRDGDTDD")
S6 = ("BBABBZCBGXMBBRCBBBAFOTMDRDM"
      "OOOTGOOROOOFOOOOOBOOBOOFOOK"
      "PPPPBGPPCPPPAPPPPBPPCPPGPP"
      "BZCGABBZBBR" "GOOOOTOOOOCOOOOOOOO"
      "DDDDDDDDTDGDDDDRDGDDBGC"
      "BBCABZBBBBBRBGBBBBBCBBBBBGBBBCBBBCBBBBCBBBBBBBBGBCBGCBBZBBBBBBBB"
      "RTDDTDDRTDTRDXDDGTADCGAMDCARBRGDTDMMTRMTRDT")
S10 = ("RRRBGRBDTKGDKGRDDDTDDADDDTDXDTDDDDXDDDDGDDDD" "BCBGABCAGDCGBRB"
       "TTXRTTTTRTMMTTTXXRXRRR"
       "BCBBZBBCBBBBKBCBBGBCBBGBBCBBBBBBGBBBBCBGBBBBBBCBBBBEM"
       "OOOOOOOFOOF" "RPPPGPBAPCPPPPCPPPBGPPPP" "GBZBCZBRBBBCB" "OOOOTOCOGOOOFKO"
       "BRCBBGBGBBBBBBBFOGOOCGOOTFOOOOOOOR" "DTDDXDTDDDXDDRDDT" "RBCBGCBBBCGBBZBBCBB")
S16 = ("RRTGGKRCBCRT" "XMTTOBTGDTDTMDD" "TDMTRMTXXRR" "BBCBZBBBCABBBBBBBBCBZBBBBBBCBBBBBCBBC"
       "TTBTRGXRRXR" "DDGDDDTDDDDGDDDDDDDGDDDDDGDRDDD"
       "BBBCOOBGCOOKOOOOG" "OOBBZBBCBBBABBCBBCBB"
       "RBTPZOAPOOCTGOOO" "OOOOOOOOROO" "PCPPPBCPPAPPCPPPPGPPCPPAPPBPPPCPPP"
       "RBBGCBAGCDCCAABB" "TTTTTTXXRXRZVR" "OOOOOOOOOOO")
STRIPS = [S3, S4, S5, S6, S10, S16, ""]

# figure layout in reference pixels
W, H = 1115, 1328
TOPS = [47, 239, 431, 623, 814, 1006, 1198]
PANEL_H = 133


def px_axes(fig, left, top, right, bottom):
    ax = fig.add_axes([left / W, 1 - bottom / H, (right - left) / W, (bottom - top) / H])
    ax.set_axis_off()
    return ax


def draw_panel(ax, text):
    start = 0
    pos = {}
    for run in text.replace("\n", "").split(";"):
        parts = run.split()
        if not parts:
            continue
        if parts[0].startswith("="):
            n = max(int(parts[0][1:]) - start, 0)
        else:
            n = int(parts[0])
        prev = 0
        for tok in parts[1:]:
            top = int(tok[1:]) if len(tok) > 1 else 100
            top = max(top, prev)
            if top > prev and n > 0:
                pos.setdefault(tok[0], []).append((start, n, prev, top - prev))
            prev = top
        start += n
    for key, rows in pos.items():
        rows = np.array(rows)
        ax.bar(rows[:, 0], rows[:, 3], width=rows[:, 1], bottom=rows[:, 2], align="edge",
               color=CLUSTER[key], linewidth=0, antialiased=False)
    ax.set_xlim(0, TOTAL)
    ax.set_ylim(0, 100)


def draw_strip(ax, letters):
    idx = np.array([RACE_KEY.index(c) for c in letters])
    ax.imshow(idx[None, :], aspect="auto", cmap=ListedColormap(RACE_COL), vmin=0,
              vmax=len(RACES) - 1, interpolation="nearest")


def main():
    plt.rcParams["font.family"] = ["Liberation Sans", "DejaVu Sans"]
    fig = plt.figure(figsize=(W / 100, H / 100), dpi=100)

    panels = []
    for i, title in enumerate(TITLES):
        top = TOPS[i]
        ax = px_axes(fig, 9, top, 1115, top + PANEL_H)
        draw_panel(ax, PANELS[i])
        panels.append(ax)
        fig.text(566 / W, 1 - (top - 24.5) / H, title, ha="center", va="center",
                 fontsize=18.5, fontweight="bold")
        if STRIPS[i]:
            sx = px_axes(fig, 11, top + PANEL_H + 1.5, 1115, top + PANEL_H + 6.5)
            draw_strip(sx, STRIPS[i])

    # small legend in the first panel
    handles = [Line2D([], [], color=c, lw=0.7) for c in RACE_COL]
    leg = panels[0].legend(handles, RACES, loc="center",
                           bbox_to_anchor=(1063 / W, 1 - 174 / H, 51 / W, 121 / H),
                           bbox_transform=fig.transFigure,
                           fontsize=3.65, handlelength=0.7, handletextpad=0.6, labelspacing=0.28,
                           borderpad=0.7, borderaxespad=0, fancybox=False, framealpha=1,
                           labelcolor=RACE_COL, edgecolor="#BBBBBB")
    leg.get_frame().set_linewidth(0.8)

    fig.savefig("out.png", dpi=100)


main()
